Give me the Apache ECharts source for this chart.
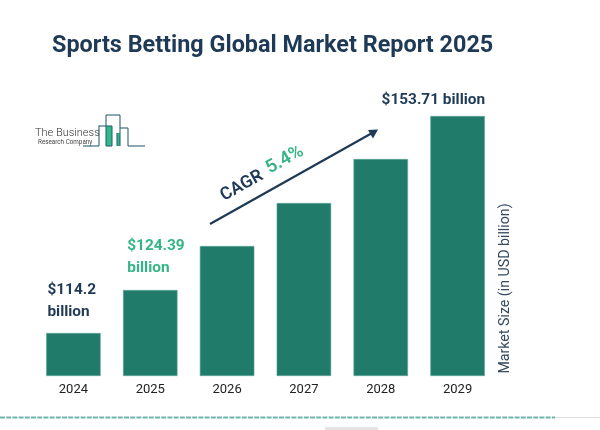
<!DOCTYPE html>
<html><head><meta charset="utf-8">
<style>html,body{margin:0;padding:0;background:#fff}#c{width:600px;height:430px}</style>
<script src="https://cdn.jsdelivr.net/npm/echarts@6/dist/echarts.min.js"></script>
</head><body><div id="c"></div>
<script>
const titleText = 'Sports Betting Global Market Report 2025';
const years = ['2024','2025','2026','2027','2028','2029'];
const barHeights = [43, 86, 130, 173, 217, 260];
const valueLabels = ['$114.2\nbillion', '$124.39\nbillion', '', '', '', '$153.71 billion'];
const axisName = 'Market Size (in USD billion)';

const navy = '#1f3a56', green = '#35b585', teal = '#217b6b', logoLine = '#2f6273';
const font = 'Roboto';
function lbl(i, color, offsetX, dist) {
  return { value: barHeights[i], label: { show: true, position: 'top', align: 'left', distance: dist,
    offset: [offsetX, 0], color, fontFamily: font, fontSize: 15.4, fontWeight: 700, lineHeight: 22,
    formatter: valueLabels[i] } };
}
const seriesData = barHeights.map(v => v);
seriesData[0] = lbl(0, navy, -26, 10);
seriesData[1] = lbl(1, green, -23, 11);
seriesData[5] = lbl(5, navy, -76, 5);

const chart = echarts.init(document.getElementById('c'), null, { renderer: 'canvas' });
const seg = (x1,y1,x2,y2,c,w) => ({ type:'line', shape:{x1,y1,x2,y2}, style:{stroke:c,lineWidth:w||1.1} });
const box = (x,y,width,height,c) => ({ type:'rect', shape:{x,y,width,height}, style:{fill:c} });
chart.setOption({
  animation: false,
  backgroundColor: '#fff',
  title: { text: titleText, left: 47, top: 30, textStyle: { color: navy, fontFamily: font, fontSize: 23.4, fontWeight: 700 } },
  grid: { left: 35, right: 104, top: 116, bottom: 54 },
  xAxis: { type: 'category', data: years, axisLine:{show:false}, axisTick:{show:false},
    axisLabel: { color:'#222', fontFamily:font, fontSize:13, margin:7 } },
  yAxis: { type:'value', min:0, max:260, show:false },
  series: [{ type:'bar', data: seriesData, barWidth: 54.5,
    itemStyle:{ color: teal, borderColor:'#5fa89b', borderWidth:0.6 } }],
  graphic: [
    { type:'text', x:505, y:288.5, rotation:Math.PI/2, style:{ text:axisName, fill:'#34495e', font:'14.2px Roboto', align:'center', verticalAlign:'middle' } },
    // growth arrow
    seg(210,224,373,132.5,navy,2.2),
    { type:'polygon', shape:{ points:[[378,129.5],[368,130],[373,138.5]] }, style:{ fill:navy } },
    { type:'text', x:242, y:186, rotation:0.51, style:{ text:'CAGR', fill:navy, font:'600 17.5px Roboto', align:'center', verticalAlign:'middle' } },
    { type:'text', x:285, y:160, rotation:0.51, style:{ text:'5.4%', fill:green, font:'600 18.5px Roboto', align:'center', verticalAlign:'middle' } },
    // logo
    { type:'text', x:35, y:133, style:{ text:'The Business', fill:'#333', font:'300 11px Roboto', verticalAlign:'middle' } },
    { type:'text', x:38, y:142, style:{ text:'Research Company', fill:'#444', font:'6.3px Roboto', verticalAlign:'middle' } },
    box(106,126,6,20,'#2fb88a'), box(117,133,3,13,'#2fb88a'),
    seg(83,146,99,146,logoLine), seg(99,146,99,125.5,logoLine), seg(99,126,112,126,logoLine),
    seg(112,126,112,146,logoLine), seg(106,146,112,146,logoLine), seg(106,146,106,115,logoLine),
    seg(106,115,120,115,logoLine), seg(120,115,120,146,logoLine), seg(120,128,128,128,logoLine),
    seg(128,128,128,146,logoLine), seg(128,146,145,146,logoLine), seg(117,133,117,146,logoLine),
    // footer rules
    { type:'line', shape:{x1:0,y1:417.5,x2:555,y2:417.5}, style:{ stroke:'#6fb5ab', lineWidth:2, lineDash:[5,1.2] } },
    seg(555,417.5,600,417.5,'#dddddd',1),
    box(325,427,53,3,'#e4e4e4')
  ]
});
</script></body></html>
